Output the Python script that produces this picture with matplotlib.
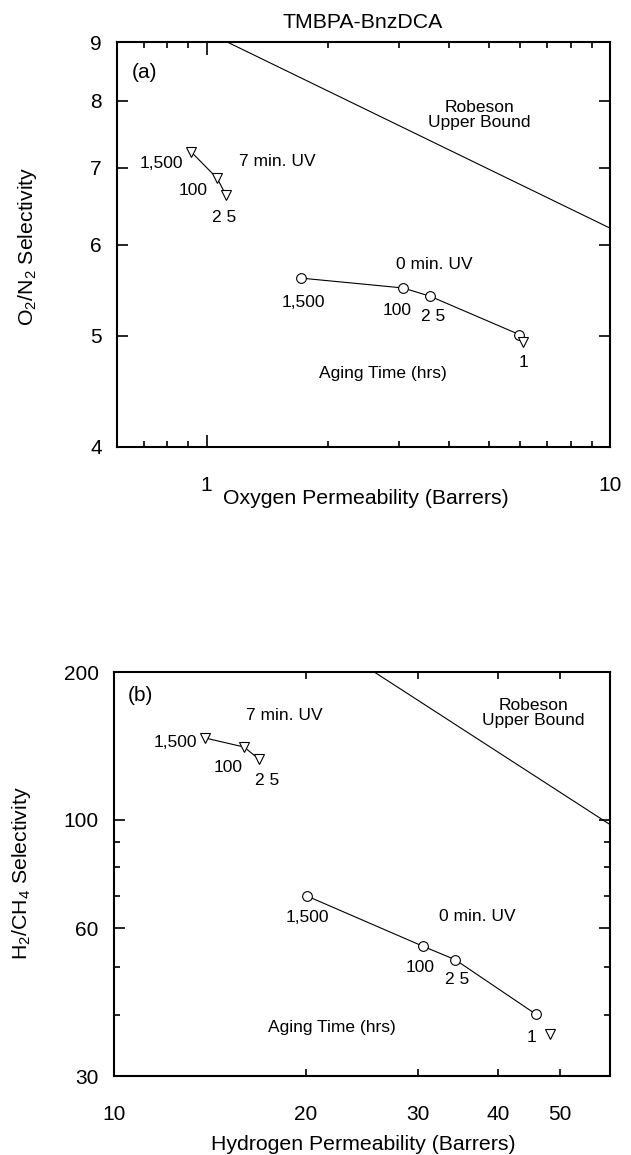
import matplotlib
matplotlib.use("Agg")
import matplotlib.pyplot as plt
from matplotlib.ticker import FixedLocator, NullFormatter, FixedFormatter

plt.rcParams['font.family'] = ['Liberation Sans', 'DejaVu Sans']
plt.rcParams['mathtext.fontset'] = 'custom'
plt.rcParams['mathtext.rm'] = 'Liberation Sans'

# ---------------- data: panel (a) O2/N2 ----------------
a_uv0_x = [1.71, 3.07, 3.58, 5.96]
a_uv0_y = [5.61, 5.50, 5.41, 5.01]
a_uv7_x = [0.917, 1.063, 1.118]
a_uv7_y = [7.22, 6.85, 6.62]
a_uv7_1h_x = [6.10]
a_uv7_1h_y = [4.94]
a_rob_x = [1.125, 10.0]
a_rob_y = [9.0, 6.2]

# ---------------- data: panel (b) H2/CH4 ----------------
b_uv0_x = [20.1, 30.5, 34.3, 45.9]
b_uv0_y = [69.8, 55.2, 51.8, 40.1]
b_uv7_x = [13.9, 16.0, 16.9]
b_uv7_y = [146.7, 140.6, 132.7]
b_uv7_1h_x = [48.3]
b_uv7_1h_y = [36.5]
b_rob_x = [25.6, 60.0]
b_rob_y = [200.0, 97.7]

a_xticks = [1, 10]
a_xticklabels = ['1', '10']
a_xminor = [0.7, 0.8, 0.9, 2, 3, 4, 5, 6, 7, 8, 9]
a_yticks = [4, 5, 6, 7, 8, 9]
b_xticks = [10, 20, 30, 40, 50]
b_yticks = [30, 60, 100, 200]
b_yminor = [40, 50, 70, 80, 90]

W, H = 631, 1155
fig = plt.figure(figsize=(W / 100, H / 100), dpi=100)

def box(l, r, t, b):
    return [l / W, 1 - b / H, (r - l) / W, (b - t) / H]

ax1 = fig.add_axes(box(117, 610, 42, 447))
ax2 = fig.add_axes(box(114, 610, 672, 1076))

tick_fs = 15
ann_fs = 12.5
lab_fs = 15.3

mk = dict(markerfacecolor='white', markeredgecolor='black', markeredgewidth=0.8,
          color='black', linewidth=0.8)

def setup(ax, xlim, ylim, xmaj, xlab, xmin, ymaj, ylab, ymin, xmajlen, xpad):
    ax.set_xscale('log'); ax.set_yscale('log')
    ax.set_xlim(*xlim); ax.set_ylim(*ylim)
    ax.xaxis.set_major_locator(FixedLocator(xmaj))
    ax.xaxis.set_major_formatter(FixedFormatter(xlab))
    ax.xaxis.set_minor_locator(FixedLocator(xmin))
    ax.xaxis.set_minor_formatter(NullFormatter())
    ax.yaxis.set_major_locator(FixedLocator(ymaj))
    ax.yaxis.set_major_formatter(FixedFormatter(ylab))
    ax.yaxis.set_minor_locator(FixedLocator(ymin))
    ax.yaxis.set_minor_formatter(NullFormatter())
    for s in ax.spines.values():
        s.set_linewidth(1.5)
    ax.tick_params(axis='x', which='major', direction='in', top=True, bottom=True,
                   width=1.2, length=xmajlen, labelsize=tick_fs, pad=xpad)
    ax.tick_params(axis='x', which='minor', direction='in', top=True, bottom=True,
                   width=1.2, length=4)
    ax.tick_params(axis='y', which='major', direction='in', left=True, right=True,
                   width=1.2, length=8, labelsize=tick_fs, pad=11)
    ax.tick_params(axis='y', which='minor', direction='in', left=True, right=True,
                   width=1.2, length=4)

# ---- panel a ----
ax = ax1
ax.plot(a_rob_x, a_rob_y, color='black', linewidth=0.8)
ax.plot(a_uv0_x, a_uv0_y, marker='o', markersize=7, **mk)
ax.plot(a_uv7_x, a_uv7_y, marker='v', markersize=7, **mk)
ax.plot(a_uv7_1h_x, a_uv7_1h_y, marker='v', markersize=7, linestyle='none', **mk)
setup(ax, (0.6, 10), (4, 9), a_xticks, a_xticklabels, a_xminor,
      a_yticks, [str(v) for v in a_yticks], [], 9, 21)

ax.text(0.03, 0.925, '(a)', transform=ax.transAxes, fontsize=15, ha='left', va='center')
ax.text(4.74, 7.77, 'Robeson\nUpper Bound', fontsize=ann_fs, ha='center', va='center', linespacing=1.0)
ax.text(1.50, 7.08, '7 min. UV', fontsize=ann_fs, ha='center', va='center')
ax.text(0.773, 7.05, '1,500', fontsize=ann_fs, ha='center', va='center')
ax.text(0.928, 6.69, '100', fontsize=ann_fs, ha='center', va='center')
ax.text(1.108, 6.33, '2 5', fontsize=ann_fs, ha='center', va='center')
ax.text(3.67, 5.76, '0 min. UV', fontsize=ann_fs, ha='center', va='center')
ax.text(1.734, 5.34, '1,500', fontsize=ann_fs, ha='center', va='center')
ax.text(2.96, 5.26, '100', fontsize=ann_fs, ha='center', va='center')
ax.text(3.65, 5.19, '2 5', fontsize=ann_fs, ha='center', va='center')
ax.text(6.09, 4.74, '1', fontsize=ann_fs, ha='center', va='center')
ax.text(2.73, 4.63, 'Aging Time (hrs)', fontsize=ann_fs, ha='center', va='center')

# ---- panel b ----
ax = ax2
ax.plot(b_rob_x, b_rob_y, color='black', linewidth=0.8)
ax.plot(b_uv0_x, b_uv0_y, marker='o', markersize=7, **mk)
ax.plot(b_uv7_x, b_uv7_y, marker='v', markersize=7, **mk)
ax.plot(b_uv7_1h_x, b_uv7_1h_y, marker='v', markersize=7, linestyle='none', **mk)
setup(ax, (10, 60), (30, 200), b_xticks, [str(v) for v in b_xticks], [],
      b_yticks, [str(v) for v in b_yticks], b_yminor, 5, 21)

ax.text(0.028, 0.942, '(b)', transform=ax.transAxes, fontsize=15, ha='left', va='center')
ax.text(45.5, 165, 'Robeson\nUpper Bound', fontsize=ann_fs, ha='center', va='center', linespacing=1.0)
ax.text(18.5, 163.2, '7 min. UV', fontsize=ann_fs, ha='center', va='center')
ax.text(12.5, 143.9, '1,500', fontsize=ann_fs, ha='center', va='center')
ax.text(15.1, 128, '100', fontsize=ann_fs, ha='center', va='center')
ax.text(17.4, 120.2, '2 5', fontsize=ann_fs, ha='center', va='center')
ax.text(20.1, 63.1, '1,500', fontsize=ann_fs, ha='center', va='center')
ax.text(37.2, 63.3, '0 min. UV', fontsize=ann_fs, ha='center', va='center')
ax.text(30.2, 50.0, '100', fontsize=ann_fs, ha='center', va='center')
ax.text(34.5, 47.2, '2 5', fontsize=ann_fs, ha='center', va='center')
ax.text(45.2, 35.9, '1', fontsize=ann_fs, ha='center', va='center')
ax.text(22.0, 37.6, 'Aging Time (hrs)', fontsize=ann_fs, ha='center', va='center')

# ---- titles and axis labels ----
fig.text(363 / W, 1 - 23 / H, 'TMBPA-BnzDCA', fontsize=lab_fs, ha='center', va='center')
fig.text(366 / W, 1 - 499 / H, 'Oxygen Permeability (Barrers)', fontsize=lab_fs, ha='center', va='center')
fig.text(28 / W, 1 - 246 / H, r'O$_\mathregular{2}$/N$_\mathregular{2}$ Selectivity', fontsize=lab_fs,
         ha='center', va='center', rotation=90)
fig.text(363 / W, 1 - 1144 / H, 'Hydrogen Permeability (Barrers)', fontsize=lab_fs, ha='center', va='center')
fig.text(22 / W, 1 - 873 / H, r'H$_\mathregular{2}$/CH$_\mathregular{4}$ Selectivity', fontsize=lab_fs,
         ha='center', va='center', rotation=90)

fig.savefig('out.png', dpi=100)
